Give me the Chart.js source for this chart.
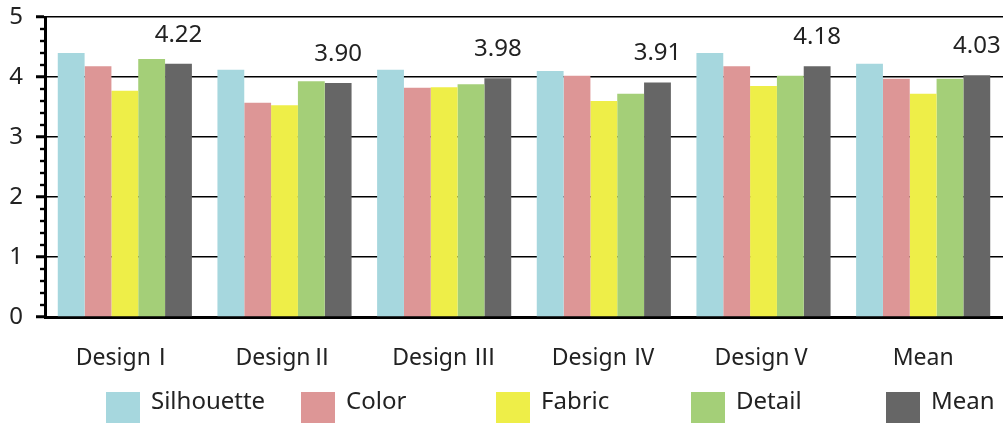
<!DOCTYPE html>
<html>
<head>
<meta charset="utf-8">
<script src="https://cdn.jsdelivr.net/npm/chart.js@4/dist/chart.umd.min.js"></script>
<style>
  html, body { margin: 0; padding: 0; background: #fff; }
  #wrap { width: 1003px; height: 423px; }
</style>
</head>
<body>
<div id="wrap"><canvas id="myChart"></canvas></div>
<script>
const categories = ["DesignⅠ", "DesignⅡ", "Design Ⅲ", "Design Ⅳ", "DesignⅤ", "Mean"];
const silhouette = [4.40, 4.12, 4.12, 4.10, 4.40, 4.22];
const color      = [4.18, 3.57, 3.82, 4.02, 4.18, 3.97];
const fabric     = [3.77, 3.53, 3.83, 3.60, 3.85, 3.72];
const detail     = [4.30, 3.93, 3.88, 3.72, 4.02, 3.97];
const mean       = [4.22, 3.90, 3.98, 3.91, 4.18, 4.03];
const yTicks     = [0, 1, 2, 3, 4, 5];

const FONT = "'Noto Sans', 'Noto Sans CJK KR', sans-serif";

// small ticks every 0.2 on the y axis
const minorTicks = {
  id: "minorTicks",
  afterDraw(chart) {
    const y = chart.scales.y;
    const ctx = chart.ctx;
    ctx.save();
    ctx.fillStyle = "#000";
    for (let v = 0.2; v < 5; v += 0.2) {
      if (Math.abs(v - Math.round(v)) < 0.01) continue;
      const py = y.getPixelForValue(v);
      ctx.fillRect(y.right - 5, py - 1.2, 6, 2.4);
    }
    ctx.restore();
  }
};

// value labels above the Mean bars
const meanLabels = {
  id: "meanLabels",
  afterDatasetsDraw(chart) {
    const ctx = chart.ctx;
    const meta = chart.getDatasetMeta(4);
    ctx.save();
    ctx.font = "24px " + FONT;
    ctx.fillStyle = "#222";
    ctx.textAlign = "center";
    ctx.textBaseline = "alphabetic";
    meta.data.forEach((bar, i) => {
      ctx.fillText(mean[i].toFixed(2), bar.x, bar.y - 22);
    });
    ctx.restore();
  }
};

// legend spread evenly along the bottom
const bottomLegend = {
  id: "bottomLegend",
  afterDraw(chart) {
    const ctx = chart.ctx;
    const step = 195;
    let x = 106;
    ctx.save();
    ctx.font = "24px " + FONT;
    ctx.textBaseline = "alphabetic";
    ctx.textAlign = "left";
    chart.data.datasets.forEach((ds) => {
      ctx.fillStyle = ds.backgroundColor;
      ctx.fillRect(x, 392, 34, 31);
      ctx.fillStyle = "#222";
      ctx.fillText(ds.label, x + 45, 409);
      x += step;
    });
    ctx.restore();
  }
};

const ctx = document.getElementById("myChart");

new Chart(ctx, {
  type: "bar",
  data: {
    labels: categories,
    datasets: [
      { label: "Silhouette", data: silhouette, backgroundColor: "#a6d7de" },
      { label: "Color", data: color, backgroundColor: "#dd9696" },
      { label: "Fabric", data: fabric, backgroundColor: "#eeee48" },
      { label: "Detail", data: detail, backgroundColor: "#a4cf78" },
      { label: "Mean", data: mean, backgroundColor: "#666666" },
    ],
  },
  options: {
    responsive: true,
    maintainAspectRatio: false,
    animation: false,
    categoryPercentage: 0.84,
    barPercentage: 1.0,
    layout: { autoPadding: false, padding: { left: 0, right: 0, top: 17, bottom: 52 } },
    plugins: {
      legend: { display: false },
      tooltip: { enabled: false },
    },
    scales: {
      x: {
        grid: { display: true, drawOnChartArea: false, drawTicks: false },
        border: { display: true, color: "#000", width: 3 },
        ticks: { color: "#222", font: { family: FONT, size: 23 }, padding: 28, maxRotation: 0 },
        afterFit(scale) { scale.height = 54; },
      },
      y: {
        min: 0,
        max: 5,
        afterBuildTicks(scale) { scale.ticks = yTicks.map((v) => ({ value: v })); },
        grid: {
          color: "#000",
          lineWidth: 1.5,
          tickColor: "#000",
          tickLength: 9,
          tickWidth: 3,
        },
        border: { display: true, color: "#000", width: 3 },
        ticks: { color: "#222", font: { family: FONT, size: 24 }, padding: 13 },
        afterFit(scale) {
          scale.width = 45;
          scale.paddingTop = 0;
          scale.paddingBottom = 0;
        },
      },
    },
  },
  plugins: [minorTicks, meanLabels, bottomLegend],
});
</script>
</body>
</html>
